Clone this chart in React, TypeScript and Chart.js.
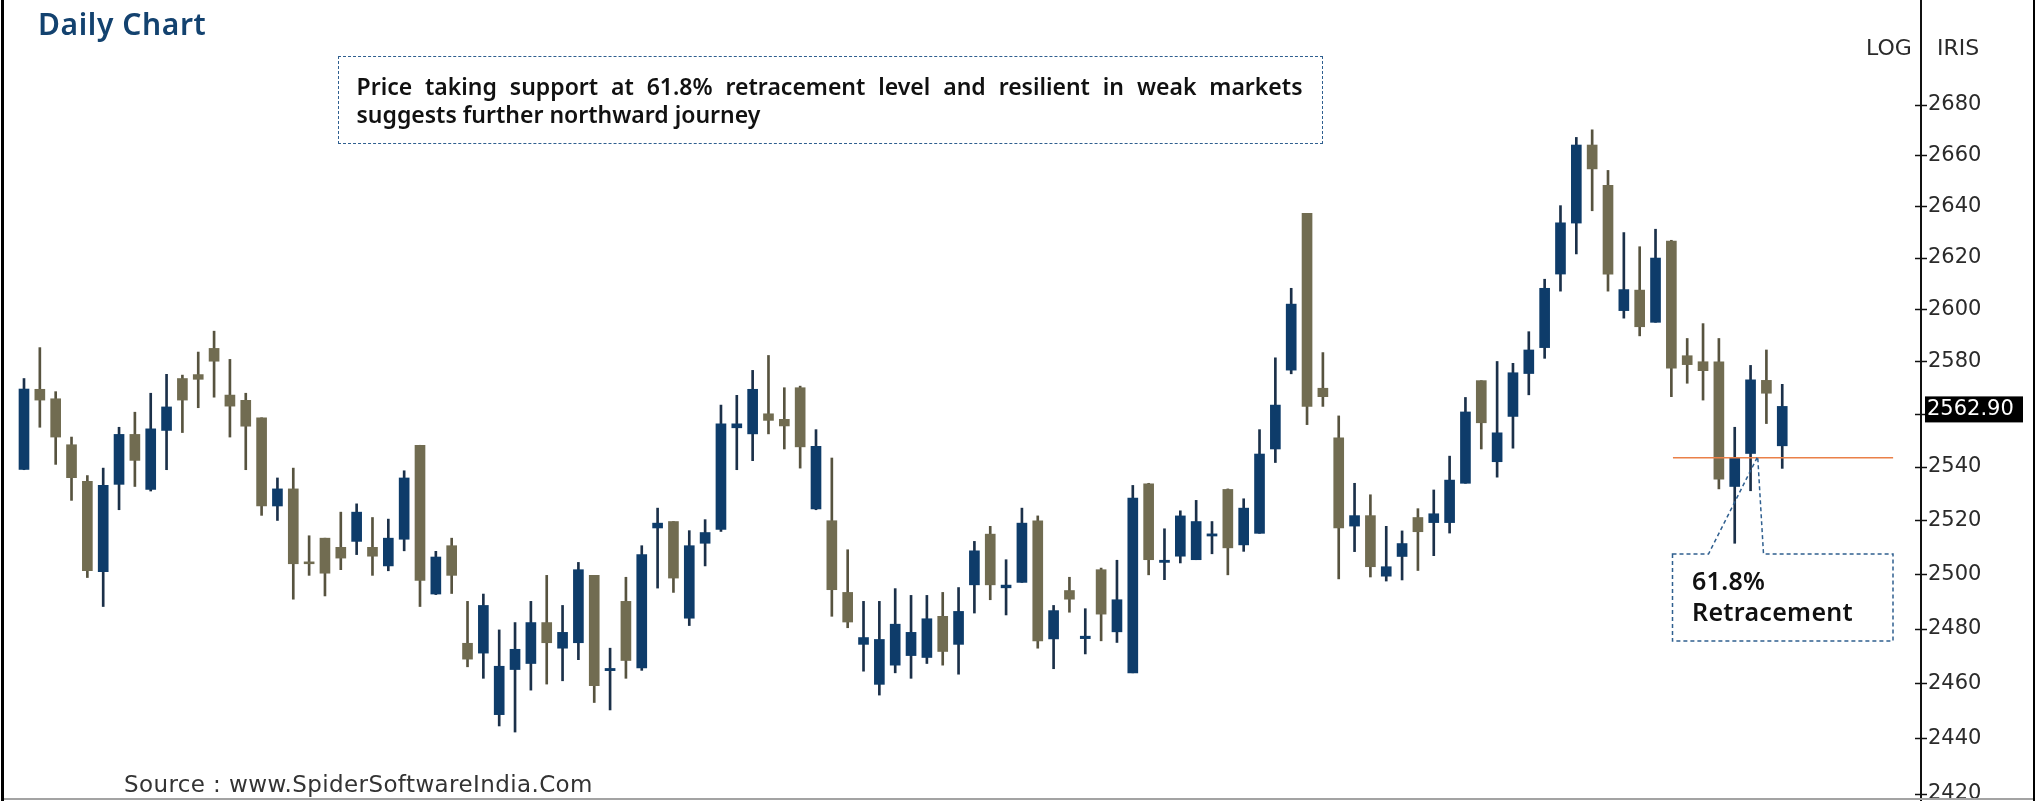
import React, { useEffect, useRef } from "react";
import { Chart, registerables } from "chart.js";

Chart.register(...registerables);

// Daily OHLC values
const opens = [
  2539.1, 2569.4, 2565.8, 2548.4, 2534.6, 2501.0, 2533.5, 2552.3, 2531.6, 2553.8,
  2573.5, 2575.0, 2585.0, 2567.2, 2565.2, 2558.6, 2525.4, 2531.8, 2504.6, 2513.4,
  2510.0, 2512.2, 2510.0, 2503.1, 2513.0, 2548.2, 2492.7, 2510.6, 2474.6, 2471.0,
  2448.6, 2465.0, 2467.2, 2482.2, 2472.8, 2474.8, 2499.6, 2464.6, 2490.0, 2465.6,
  2517.2, 2519.6, 2483.8, 2511.5, 2516.7, 2554.8, 2552.5, 2560.1, 2558.0, 2570.0,
  2524.3, 2519.9, 2493.3, 2474.2, 2459.6, 2466.6, 2470.1, 2469.4, 2484.5, 2474.2,
  2496.1, 2514.9, 2495.0, 2497.0, 2519.9, 2476.2, 2494.0, 2476.3, 2501.7, 2478.8,
  2463.8, 2533.7, 2504.4, 2506.7, 2505.4, 2514.2, 2531.6, 2510.9, 2515.2, 2546.8,
  2576.7, 2637.2, 2569.8, 2551.0, 2517.9, 2521.8, 2499.3, 2506.6, 2521.1, 2519.2,
  2519.2, 2533.9, 2572.7, 2542.0, 2559.1, 2575.4, 2585.3, 2613.6, 2633.4, 2664.0,
  2648.2, 2599.5, 2607.4, 2595.0, 2626.4, 2582.2, 2579.9, 2579.9, 2532.7, 2545.1,
  2572.8, 2548.0,
];
const highs = [
  2573.5, 2585.3, 2568.5, 2551.3, 2536.8, 2539.6, 2555.0, 2560.7, 2567.9, 2575.1,
  2574.8, 2583.6, 2591.6, 2580.8, 2567.9, 2558.6, 2535.9, 2539.6, 2514.3, 2513.4,
  2523.1, 2526.2, 2521.1, 2520.5, 2538.6, 2548.2, 2508.5, 2513.4, 2490.0, 2492.7,
  2479.5, 2482.2, 2490.0, 2499.6, 2488.5, 2504.4, 2499.6, 2472.8, 2498.9, 2510.6,
  2524.6, 2519.6, 2516.2, 2520.3, 2563.4, 2567.1, 2576.6, 2582.3, 2570.0, 2570.6,
  2554.1, 2543.4, 2509.1, 2490.0, 2490.0, 2494.7, 2492.2, 2492.2, 2493.3, 2495.1,
  2512.2, 2517.8, 2505.4, 2524.6, 2521.7, 2488.5, 2498.9, 2487.3, 2502.3, 2505.2,
  2533.1, 2533.9, 2516.9, 2523.6, 2527.5, 2519.6, 2531.8, 2528.1, 2554.1, 2581.4,
  2608.1, 2637.2, 2583.4, 2559.3, 2533.9, 2529.6, 2517.8, 2516.1, 2524.4, 2531.4,
  2544.1, 2566.3, 2572.7, 2580.0, 2579.3, 2591.4, 2611.6, 2640.2, 2667.0, 2670.0,
  2654.0, 2629.7, 2624.2, 2631.0, 2626.7, 2588.8, 2594.5, 2588.8, 2555.0, 2578.5,
  2584.4, 2571.3,
];
const lows = [
  2539.0, 2555.0, 2541.0, 2527.5, 2498.8, 2488.1, 2524.0, 2532.7, 2531.0, 2539.0,
  2553.0, 2562.4, 2566.4, 2551.3, 2539.0, 2521.9, 2520.0, 2490.8, 2499.6, 2492.0,
  2501.7, 2507.3, 2499.6, 2501.3, 2508.7, 2488.1, 2492.5, 2492.9, 2466.0, 2461.8,
  2444.5, 2442.3, 2457.5, 2459.7, 2460.9, 2468.6, 2453.0, 2450.3, 2461.8, 2464.7,
  2494.9, 2493.3, 2481.1, 2503.1, 2515.9, 2539.0, 2542.4, 2552.5, 2546.8, 2539.6,
  2524.0, 2484.5, 2480.3, 2464.4, 2455.7, 2463.8, 2461.8, 2467.2, 2466.6, 2463.3,
  2485.7, 2490.6, 2485.0, 2497.0, 2472.8, 2465.3, 2486.0, 2470.7, 2475.5, 2474.9,
  2463.8, 2499.8, 2498.0, 2504.2, 2505.4, 2507.6, 2499.8, 2508.5, 2515.2, 2541.7,
  2575.3, 2556.0, 2562.9, 2498.3, 2508.4, 2499.0, 2497.5, 2497.9, 2501.4, 2506.9,
  2515.3, 2533.9, 2546.8, 2536.2, 2547.1, 2567.3, 2581.2, 2607.0, 2621.4, 2638.2,
  2607.0, 2596.6, 2589.8, 2595.0, 2566.6, 2571.7, 2565.3, 2531.8, 2511.5, 2531.1,
  2556.4, 2539.5,
];
const closes = [
  2569.5, 2565.3, 2551.3, 2536.0, 2501.3, 2533.1, 2552.3, 2542.5, 2554.4, 2562.7,
  2565.3, 2573.2, 2580.1, 2563.0, 2555.4, 2525.4, 2531.8, 2503.9, 2503.9, 2500.4,
  2506.0, 2523.1, 2506.7, 2513.4, 2535.9, 2497.7, 2506.4, 2499.6, 2468.8, 2488.5,
  2466.2, 2472.4, 2482.2, 2474.8, 2478.6, 2501.7, 2459.1, 2465.4, 2468.3, 2507.3,
  2519.0, 2498.6, 2510.6, 2515.5, 2556.3, 2556.3, 2569.4, 2557.6, 2555.5, 2547.6,
  2547.8, 2494.3, 2482.4, 2476.7, 2476.0, 2481.6, 2478.6, 2483.6, 2471.6, 2486.3,
  2508.7, 2496.1, 2496.0, 2519.0, 2475.5, 2486.6, 2490.8, 2477.2, 2485.3, 2490.6,
  2528.4, 2505.4, 2505.2, 2521.7, 2519.6, 2515.0, 2509.8, 2524.6, 2544.9, 2563.4,
  2602.0, 2562.9, 2566.6, 2517.2, 2521.8, 2502.8, 2502.8, 2511.4, 2515.8, 2522.5,
  2535.1, 2560.8, 2556.7, 2552.9, 2575.7, 2584.4, 2608.1, 2633.5, 2664.0, 2654.6,
  2613.6, 2607.6, 2593.3, 2619.8, 2577.4, 2578.8, 2576.5, 2535.4, 2543.5, 2573.0,
  2567.9, 2562.9,
];

const yTickValues = [2420, 2440, 2460, 2480, 2500, 2520, 2540, 2560, 2580, 2600, 2620, 2640, 2660, 2680];
const lastPrice = 2562.9;
const retracementLevel = 2543.5;
const retracementStartIndex = 104.1;
const retracementEndIndex = 118.0;

const BLUE = "#0e3c6a";
const KHAKI = "#716c51";
const BLUE_WICK = "#1b3049";
const KHAKI_WICK = "#57533f";

const axisDecor = {
  id: "axisDecor",
  afterDraw(chart: any) {
    const ctx = chart.ctx;
    const ys = chart.scales.y;
    const x0 = ys.left;
    ctx.save();
    ctx.strokeStyle = "#111";
    ctx.lineWidth = 2;
    ctx.beginPath();
    ctx.moveTo(x0, 0);
    ctx.lineTo(x0, chart.height);
    ctx.stroke();
    ctx.lineWidth = 1.5;
    ys.ticks.forEach((t: any) => {
      const py = Math.round(ys.getPixelForValue(t.value)) + 0.5;
      ctx.beginPath();
      ctx.moveTo(x0 - 6, py);
      ctx.lineTo(x0 + 6, py);
      ctx.stroke();
    });
    const py = ys.getPixelForValue(lastPrice);
    ctx.fillStyle = "#000";
    ctx.fillRect(x0 + 4, py - 10, 98, 26);
    ctx.fillStyle = "#fff";
    ctx.font = '21px "DejaVu Sans"';
    ctx.textBaseline = "alphabetic";
    ctx.textAlign = "left";
    ctx.fillText(lastPrice.toFixed(2), x0 + 6, py + 9);
    ctx.restore();
  },
};

export default function App() {
  const canvasRef = useRef<HTMLCanvasElement | null>(null);

  useEffect(() => {
    const canvas = canvasRef.current;
    if (!canvas) return;
    const idx = opens.map((_, i) => i);
    const up = idx.map((i) => closes[i] >= opens[i]);
    const bodies = idx.map((i) => ({ x: i, y: [opens[i], closes[i]] }));
    const wicks = idx.map((i) => ({ x: i, y: [lows[i], highs[i]] }));

    const chart = new Chart(canvas, {
      type: "bar",
      data: {
        datasets: [
          {
            type: "line",
            data: [
              { x: retracementStartIndex, y: retracementLevel },
              { x: retracementEndIndex, y: retracementLevel },
            ],
            borderColor: "#ea8048",
            borderWidth: 1.6,
            pointRadius: 0,
            order: 0,
          } as any,
          {
            type: "bar",
            data: bodies,
            backgroundColor: up.map((u) => (u ? BLUE : KHAKI)),
            borderWidth: 0,
            barThickness: 10,
            grouped: false,
            order: 1,
          } as any,
          {
            type: "bar",
            data: wicks,
            backgroundColor: up.map((u) => (u ? BLUE_WICK : KHAKI_WICK)),
            borderWidth: 0,
            barThickness: 2,
            grouped: false,
            order: 2,
          } as any,
        ],
      },
      options: {
        animation: false,
        responsive: false,
        maintainAspectRatio: false,
        layout: { padding: 0 },
        plugins: { legend: { display: false }, tooltip: { enabled: false } },
        scales: {
          x: {
            type: "linear",
            min: -1.515,
            max: 119.76,
            offset: false,
            display: false,
          },
          y: {
            type: "logarithmic",
            position: "right",
            min: 2417.5,
            max: 2721.8,
            grid: { display: false, drawTicks: false },
            border: { display: false },
            afterBuildTicks: (axis: any) => {
              axis.ticks = yTickValues.map((v) => ({ value: v }));
            },
            afterFit: (axis: any) => {
              axis.width = 118;
              axis.paddingTop = 0;
              axis.paddingBottom = 0;
            },
            ticks: {
              autoSkip: false,
              padding: 7,
              color: "#2a2a2a",
              font: { family: "DejaVu Sans", size: 21 },
              callback: (v: any) => String(v),
            },
          },
        },
      } as any,
      plugins: [axisDecor],
    });
    return () => chart.destroy();
  }, []);

  const dash = "#2f5f8f";
  return (
    <div
      style={{
        position: "fixed",
        left: 0,
        top: 0,
        width: 2039,
        height: 801,
        background: "#fff",
        overflow: "hidden",
      }}
    >
      <canvas ref={canvasRef} width={2039} height={801} style={{ position: "absolute", left: 0, top: 0 }} />
      <div style={{ position: "absolute", left: 1, top: 0, width: 3, height: 801, background: "#000" }} />
      <div style={{ position: "absolute", left: 2033, top: 0, width: 2, height: 801, background: "#000" }} />
      <div style={{ position: "absolute", left: 4, top: 798, width: 2029, height: 2, background: "#a3a3a3" }} />
      <div
        style={{
          position: "absolute",
          left: 38,
          top: 6,
          fontFamily: "'Noto Sans', sans-serif",
          fontWeight: 600,
          fontSize: 30,
          lineHeight: "36px",
          letterSpacing: 0.6,
          color: "#13426f",
          whiteSpace: "nowrap",
        }}
      >
        Daily Chart
      </div>
      <div
        style={{
          position: "absolute",
          left: 338,
          top: 56,
          width: 985,
          height: 88,
          boxSizing: "border-box",
          border: `1.5px dashed ${dash}`,
          padding: "14.5px 19.5px 0 17.5px",
          fontFamily: "'Noto Sans', sans-serif",
          fontWeight: 600,
          fontSize: 23,
          lineHeight: "28.5px",
          color: "#111",
        }}
      >
        <div style={{ textAlign: "justify", textAlignLast: "justify", whiteSpace: "nowrap" as any }}>
          Price taking support at 61.8% retracement level and resilient in weak markets
        </div>
        <div style={{ whiteSpace: "nowrap" }}>suggests further northward journey</div>
      </div>
      <svg
        width={2039}
        height={801}
        style={{ position: "absolute", left: 0, top: 0, pointerEvents: "none" }}
      >
        <path
          d="M1672.5,554 L1708.5,554 L1757.7,456.5 L1763.5,554 L1893,554 L1893,641 L1672.5,641 Z"
          fill="none"
          stroke={dash}
          strokeWidth={1.5}
          strokeDasharray="4 3"
        />
      </svg>
      <div
        style={{
          position: "absolute",
          left: 1692,
          top: 565,
          fontFamily: "'Noto Sans', sans-serif",
          fontWeight: 600,
          fontSize: 25,
          lineHeight: "31px",
          letterSpacing: 0.3,
          color: "#111",
          whiteSpace: "nowrap",
        }}
      >
        <div>61.8%</div>
        <div>Retracement</div>
      </div>
      <div
        style={{
          position: "absolute",
          left: 1866,
          top: 37,
          fontFamily: "'DejaVu Sans', sans-serif",
          fontSize: 22,
          lineHeight: "22px",
          color: "#2a2a2a",
        }}
      >
        LOG
      </div>
      <div
        style={{
          position: "absolute",
          left: 1937,
          top: 37,
          fontFamily: "'DejaVu Sans', sans-serif",
          fontSize: 22,
          lineHeight: "22px",
          color: "#2a2a2a",
        }}
      >
        IRIS
      </div>
      <div
        style={{
          position: "absolute",
          left: 124,
          top: 773,
          fontFamily: "'DejaVu Sans', sans-serif",
          fontSize: 23,
          lineHeight: "23px",
          letterSpacing: 0.4,
          color: "#333",
          whiteSpace: "nowrap",
        }}
      >
        Source : www.SpiderSoftwareIndia.Com
      </div>
    </div>
  );
}
